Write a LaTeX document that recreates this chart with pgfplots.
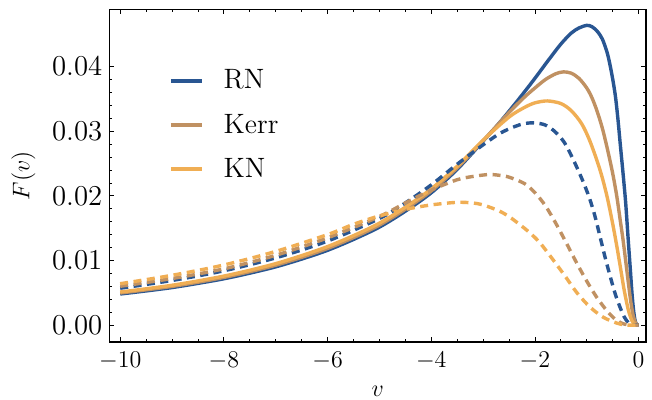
\documentclass[border=0pt]{standalone}
\usepackage{pgfplots}
\pgfplotsset{compat=1.18}
\definecolor{cRN}{RGB}{41,86,146}
\definecolor{cKerr}{RGB}{192,145,98}
\definecolor{cKN}{RGB}{240,174,84}
\begin{document}
\begin{tikzpicture}
\begin{axis}[name=ax, scale only axis, width=268.35pt, height=166.25pt,
  xmin=-10.21, xmax=0.143, ymin=-0.00263, ymax=0.04886,
  xtick={-10,-8,-6,-4,-2,0}, minor x tick num=3,
  ytick={0,0.01,0.02,0.03,0.04}, minor y tick num=4,
  scaled y ticks=false,
  yticklabel style={font=\fontsize{14}{16}\selectfont, /pgf/number format/.cd, fixed, fixed zerofill, precision=2},
  tick align=inside, major tick length=2.5pt, minor tick length=1.5pt,
  every tick/.style={black, line width=0.4pt},
  axis line style={line width=0.6pt},
  xticklabel style={font=\fontsize{13}{15}\selectfont, yshift=-1.5pt},
  label style={font=\fontsize{13}{15}\selectfont},
  xlabel style={yshift=-1.5pt},
  ylabel style={yshift=1.5pt},
  xlabel={$v$}, ylabel={$F(v)$},
  legend style={at={(0.111,0.832)}, anchor=north west, draw=none, fill=none,
     font=\fontsize{14}{16}\selectfont, row sep=7pt, column sep=8pt, inner sep=0pt,
     cells={anchor=west}},
  legend image code/.code={\draw[#1] (0pt,0pt) -- (15.5pt,0pt);},
  every axis plot/.append style={line width=1.7pt, smooth, tension=0.5},
]
% RN solid
\addplot[cRN] table {
-10 0.00480
-9.5 0.00528
-9 0.00580
-8.5 0.00645
-8 0.00716
-7.5 0.00803
-7 0.00901
-6.5 0.01021
-6 0.01157
-5.5 0.01325
-5 0.01516
-4.5 0.01762
-4 0.02047
-3.5 0.02410
-3 0.02847
-2.75 0.0307
-2.5 0.0331
-2.25 0.0356
-2.0 0.0382
-1.75 0.0409
-1.5 0.0435
-1.3 0.0452
-1.15 0.0460
-1.0 0.0464
-0.9 0.0462
-0.8 0.0455
-0.7 0.0443
-0.6 0.0420
-0.52 0.0390
-0.45 0.0356
-0.4 0.0320
-0.35 0.0277
-0.3 0.0235
-0.25 0.0190
-0.2 0.0132
-0.16 0.0087
-0.13 0.0052
-0.1 0.0025
-0.07 0.0008
-0.04 0.0001
0 0
};
\addlegendentry{RN}
% Kerr solid
\addplot[cKerr] table {
-10 0.00496
-9.5 0.00545
-9 0.00598
-8.5 0.00663
-8 0.00737
-7.5 0.00826
-7 0.00926
-6.5 0.01048
-6 0.01186
-5.5 0.01354
-5 0.01547
-4.5 0.01793
-4 0.02078
-3.5 0.02434
-3 0.02854
-2.5 0.0329
-2.2 0.0353
-2.0 0.0367
-1.8 0.0380
-1.6 0.0389
-1.45 0.0392
-1.3 0.0390
-1.15 0.0382
-1.0 0.0367
-0.9 0.0352
-0.8 0.0331
-0.7 0.0305
-0.6 0.0272
-0.5 0.0235
-0.42 0.0199
-0.35 0.0160
-0.3 0.0132
-0.25 0.0100
-0.2 0.0067
-0.15 0.0036
-0.1 0.0013
-0.05 0.0002
0 0
};
\addlegendentry{Kerr}
% KN solid
\addplot[cKN] table {
-10 0.00511
-9.5 0.00561
-9 0.00616
-8.5 0.00683
-8 0.00758
-7.5 0.00848
-7 0.00951
-6.5 0.01075
-6 0.01215
-5.5 0.01384
-5 0.01577
-4.5 0.01824
-4 0.02108
-3.5 0.02458
-3 0.02861
-2.5 0.0322
-2.2 0.0337
-2.0 0.0344
-1.76 0.0347
-1.5 0.0343
-1.3 0.0332
-1.1 0.0312
-0.95 0.0287
-0.8 0.0254
-0.7 0.0228
-0.6 0.0196
-0.5 0.0157
-0.42 0.0122
-0.35 0.0089
-0.28 0.0055
-0.2 0.0024
-0.13 0.0007
-0.07 0.0001
0 0
};
\addlegendentry{KN}
% RN dashed
\addplot[cRN, dash pattern=on 4pt off 2.75pt, forget plot] table {
-10 0.0057
-9 0.0069
-8 0.0084
-7 0.0104
-6 0.0130
-5 0.0165
-4.5 0.0189
-4 0.0217
-3.5 0.0249
-3.0 0.0279
-2.67 0.0297
-2.4 0.0307
-2.2 0.0312
-2.0 0.0313
-1.81 0.0310
-1.65 0.0302
-1.5 0.0290
-1.39 0.0277
-1.23 0.0251
-1.07 0.0222
-0.95 0.0197
-0.85 0.0171
-0.75 0.0139
-0.65 0.0106
-0.55 0.0076
-0.45 0.0048
-0.36 0.0028
-0.28 0.0013
-0.2 0.0004
-0.12 0.0001
0 0
};
% Kerr dashed
\addplot[cKerr, dash pattern=on 4pt off 2.75pt, forget plot] table {
-10 0.0060
-9 0.0072
-8 0.0087
-7 0.0108
-6 0.0135
-5 0.0168
-4.5 0.0189
-4 0.0209
-3.5 0.0225
-3.2 0.0230
-2.9 0.0233
-2.7 0.0232
-2.5 0.0229
-2.2 0.0219
-2.0 0.0205
-1.8 0.0185
-1.6 0.0158
-1.4 0.0128
-1.2 0.0097
-1.0 0.0068
-0.8 0.0042
-0.6 0.0021
-0.45 0.0009
-0.3 0.0002
-0.15 0
0 0
};
% KN dashed
\addplot[cKN, dash pattern=on 4pt off 2.75pt, forget plot] table {
-10 0.0064
-9 0.0077
-8 0.0093
-7 0.0114
-6 0.0140
-5.5 0.0156
-5 0.0169
-4.5 0.0179
-4 0.0186
-3.5 0.0190
-3.2 0.0189
-3.0 0.0186
-2.7 0.0177
-2.5 0.0168
-2.3 0.0156
-2.1 0.0143
-1.9 0.0127
-1.65 0.0101
-1.42 0.0076
-1.19 0.0050
-0.94 0.0028
-0.68 0.0012
-0.42 0.0003
-0.25 0
0 0
};
\end{axis}
\pgfresetboundingbox
\path ([xshift=-54.65pt,yshift=-28.5pt]ax.south west) rectangle ([xshift=3pt,yshift=4.75pt]ax.north east);
\end{tikzpicture}
\end{document}
